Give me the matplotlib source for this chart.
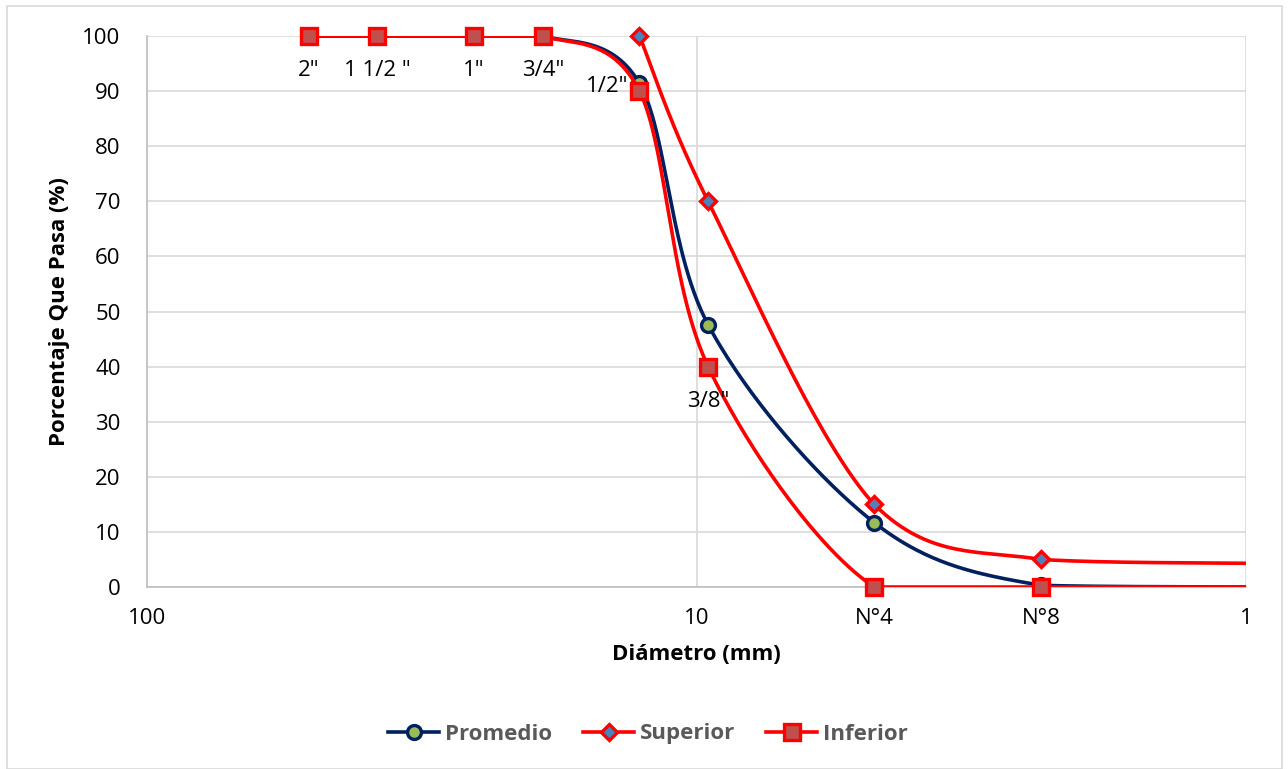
import numpy as np
import matplotlib
matplotlib.use("Agg")
import matplotlib.pyplot as plt
from matplotlib.ticker import FixedLocator, FixedFormatter
from matplotlib.lines import Line2D
from matplotlib.patches import Rectangle

plt.rcParams['font.family'] = ['Open Sans', 'DejaVu Sans']

# ---------------- data ----------------
sieve_labels = ['2"', '1 1/2 "', '1"', '3/4"', '1/2"', '3/8"', 'N°4', 'N°8']
diam_mm = [50.8, 38.1, 25.4, 19.05, 12.7, 9.525, 4.75, 2.36]
promedio = [100, 100, 100, 100, 91.4, 47.6, 11.7, 0.3]
superior = [np.nan, np.nan, np.nan, np.nan, 100, 70, 15, 5]
inferior = [100, 100, 100, 100, 90, 40, 0, 0]
# where each line leaves the plot at the right edge (x = 1 mm)
edge_diam = 1.0
promedio_edge = 0.0
superior_edge = 4.3
inferior_edge = 0.0

x_major = [100, 10, 1]
x_major_labels = ['100', '10', '1']
x_minor = [4.75, 2.36]
x_minor_labels = ['N°4', 'N°8']
y_ticks = list(range(0, 101, 10))

FS = 16

# ---------------- helpers ----------------
def smooth(xs, ys, n=60):
    """Excel-like smoothed line: Catmull-Rom Bezier in (log x, y), no overshoot."""
    xs = np.asarray(xs, float)
    ys = np.asarray(ys, float)
    m = ~np.isnan(ys)
    pts = np.column_stack([np.log10(xs[m]), ys[m]])
    N = len(pts)
    out = []
    t = np.linspace(0, 1, n)[:, None]
    for i in range(N - 1):
        p0 = pts[i - 1] if i > 0 else pts[i]
        p1 = pts[i]
        p2 = pts[i + 1]
        p3 = pts[i + 2] if i + 2 < N else pts[i + 1]
        c1 = p1 + (p2 - p0) / 6.0
        c2 = p2 - (p3 - p1) / 6.0
        lo, hi = min(p1[1], p2[1]), max(p1[1], p2[1])
        c1[1] = np.clip(c1[1], lo, hi)
        c2[1] = np.clip(c2[1], lo, hi)
        seg = ((1 - t) ** 3) * p1 + 3 * ((1 - t) ** 2) * t * c1 + 3 * (1 - t) * t ** 2 * c2 + t ** 3 * p2
        out.append(seg if i == 0 else seg[1:])
    out = np.vstack(out)
    return 10 ** out[:, 0], out[:, 1]

# ---------------- figure ----------------
fig = plt.figure(figsize=(12.88, 7.69), dpi=100)
ax = fig.add_axes([147 / 1288, (769 - 587) / 769, (1246 - 147) / 1288, (587 - 36) / 769])

# outer chart border
fig.patches.append(Rectangle((7 / 1288, 0.5 / 769), (1282 - 7) / 1288, (763.5 - 0.5) / 769,
                             transform=fig.transFigure, fill=False,
                             edgecolor='#d9d9d9', linewidth=1.2))

navy = '#002060'
red = '#FF0000'

series = [
    ('Promedio', promedio, promedio_edge, navy, 'o', '#9BBB59', navy, 10, 3),
    ('Superior', superior, superior_edge, red, 'D', '#4F81BD', red, 8.5, 3),
    ('Inferior', inferior, inferior_edge, red, 's', '#C0504D', red, 11, 4),
]

handles = []
for k, (name, vals, edge, lc, mk, mfc, mec, ms, z) in enumerate(series):
    xs = list(diam_mm) + [edge_diam]
    ys = list(vals) + [edge]
    sx, sy = smooth(xs, ys)
    ax.plot(sx, sy, color=lc, lw=2.6, zorder=z, solid_capstyle='round', clip_on=True)
    ax.plot(diam_mm, vals, linestyle='none', marker=mk, markersize=ms,
            markerfacecolor=mfc, markeredgecolor=mec, markeredgewidth=2.4,
            zorder=z + 0.5, clip_on=False)
    handles.append(Line2D([], [], color=lc, lw=2.6, marker=mk, markersize=ms,
                          markerfacecolor=mfc, markeredgecolor=mec, markeredgewidth=2.4))

# data labels (sieve names) attached to Inferior points
for i, lab in enumerate(sieve_labels[:6]):
    if lab == '1/2"':
        ax.annotate(lab, (diam_mm[i], inferior[i]), xytext=(-8, 3), textcoords='offset points',
                    ha='right', va='center', fontsize=FS, color='black', zorder=10)
    else:
        ax.annotate(lab, (diam_mm[i], inferior[i]), xytext=(0, -25), textcoords='offset points',
                    ha='center', va='center', fontsize=FS, color='black', zorder=10)

# axes
ax.set_xscale('log')
ax.set_xlim(100, 1)
ax.set_ylim(0, 100)
ax.xaxis.set_major_locator(FixedLocator(x_major))
ax.xaxis.set_major_formatter(FixedFormatter(x_major_labels))
ax.xaxis.set_minor_locator(FixedLocator(x_minor))
ax.xaxis.set_minor_formatter(FixedFormatter(x_minor_labels))
ax.set_yticks(y_ticks)
ax.tick_params(axis='both', which='both', length=0, labelsize=FS, colors='black')
ax.tick_params(axis='x', which='both', pad=15)
ax.tick_params(axis='y', pad=19)
ax.grid(True, which='major', color='#d9d9d9', linewidth=1.2)
ax.grid(False, which='minor')
ax.set_axisbelow(True)
for s in ['top', 'right']:
    ax.spines[s].set_visible(False)
for s in ['left', 'bottom']:
    ax.spines[s].set_color('#bfbfbf')
    ax.spines[s].set_linewidth(1.2)

ax.set_xlabel('Diámetro (mm)', fontsize=FS, fontweight='bold', labelpad=11)
ax.set_ylabel('Porcentaje Que Pasa (%)', fontsize=FS, fontweight='bold', labelpad=9)

leg = fig.legend(handles, ['Promedio', 'Superior', 'Inferior'], loc='center',
                 bbox_to_anchor=(648 / 1288, 1 - 734 / 769), ncol=3, frameon=False,
                 handlelength=2.3, columnspacing=1.4, handletextpad=0.25,
                 prop={'weight': 'bold', 'size': FS})
for txt in leg.get_texts():
    txt.set_color('#595959')

fig.savefig('out.png', dpi=100)
